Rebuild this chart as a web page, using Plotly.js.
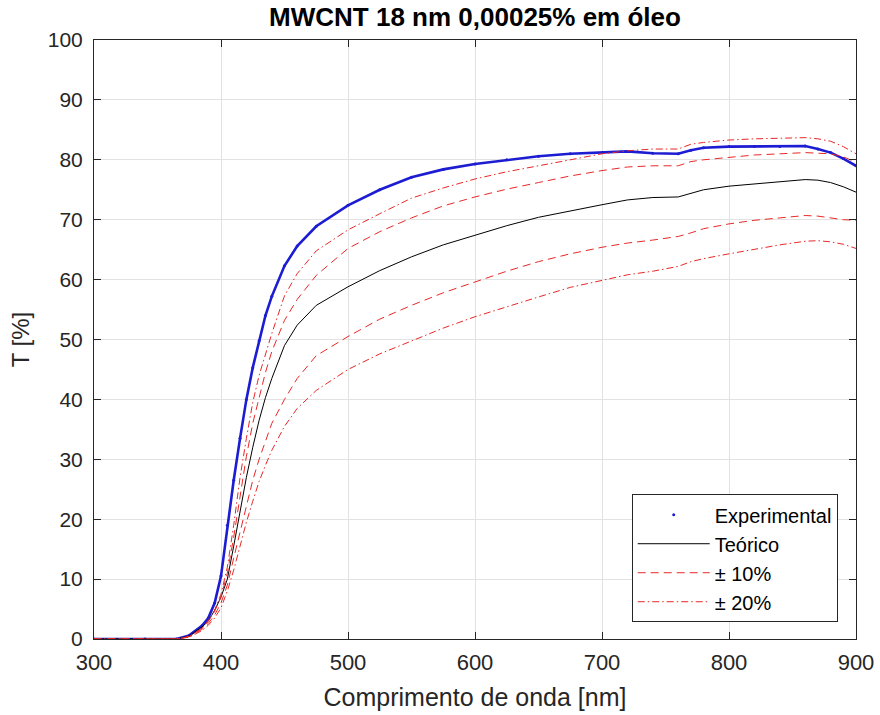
<!DOCTYPE html>
<html>
<head>
<meta charset="utf-8">
<script src="https://cdn.plot.ly/plotly-3.0.1.min.js"></script>
<style>html,body{margin:0;padding:0;background:#fff;}#chart{width:880px;height:715px;}</style>
</head>
<body>
<div id="chart"></div>
<script>
// Wavelength samples [nm]
const wavelength = [300, 340, 365, 375, 385, 390, 395, 400, 405, 410, 415, 420, 425, 430, 435, 440, 450, 460, 475, 500, 525, 550, 575, 600, 625, 650, 675, 700, 720, 740, 760, 770, 780, 800, 820, 840, 860, 870, 880, 890, 900];
// Transmittance T [%]
const experimental = [0, 0, 0, 0.6, 2.2, 3.5, 6, 10.5, 19, 26.5, 33.5, 40, 45.3, 49.8, 54, 57.2, 62.3, 65.6, 68.9, 72.4, 75, 77.1, 78.4, 79.3, 80, 80.6, 81, 81.2, 81.4, 81.1, 81, 81.6, 82, 82.2, 82.2, 82.2, 82.3, 81.8, 81.2, 80.2, 79];
const teorico = [0, 0, 0, 0.5, 2, 3, 4.8, 7, 10, 15.5, 21.5, 27, 32, 36.5, 40.3, 43.5, 49, 52.4, 55.7, 58.8, 61.5, 63.8, 65.8, 67.4, 69, 70.4, 71.5, 72.5, 73.3, 73.7, 73.8, 74.4, 75, 75.6, 76, 76.4, 76.7, 76.6, 76.2, 75.5, 74.6];
const plus10 = [0, 0, 0, 0.4, 1.8, 3, 4.6, 7, 11, 17, 24, 30.5, 36, 40.5, 44.5, 48, 53.2, 56.7, 60.7, 65.2, 68, 70.3, 72.3, 73.8, 75.1, 76.2, 77.3, 78.2, 78.8, 79, 79, 79.7, 80, 80.4, 80.8, 81, 81.2, 81.1, 81, 80.5, 79.6];
const minus10 = [0, 0, 0, 0.4, 1.6, 2.6, 4, 6, 9, 13.5, 18, 22.5, 26.5, 30, 33, 36, 40, 43.5, 47.3, 50.5, 53.4, 55.7, 57.8, 59.6, 61.4, 63, 64.3, 65.4, 66.1, 66.6, 67.2, 67.8, 68.5, 69.3, 69.9, 70.3, 70.7, 70.6, 70.3, 70, 69.9];
const plus20 = [0, 0, 0, 0.4, 1.8, 3, 4.8, 7.5, 12, 19, 27, 33.5, 39.5, 44, 47.5, 51, 57.3, 61, 64.8, 68.3, 71, 73.6, 75.3, 76.8, 78, 79, 80.1, 81, 81.5, 81.8, 81.8, 82.6, 82.9, 83.3, 83.5, 83.6, 83.7, 83.5, 83.1, 82.2, 81];
const minus20 = [0, 0, 0, 0.3, 1.4, 2.3, 3.5, 5.2, 8, 11.5, 15.5, 19.5, 23, 26.3, 29, 31.5, 35.5, 38.5, 41.5, 45, 47.6, 49.8, 51.9, 53.8, 55.5, 57.1, 58.7, 59.8, 60.8, 61.4, 62.2, 63, 63.5, 64.3, 65.1, 65.8, 66.4, 66.5, 66.3, 65.9, 65.2];

const legendNames = ['Experimental', 'Teórico', '\u00B1 10%', '\u00B1 20%'];
const xTicks = [300, 400, 500, 600, 700, 800, 900];
const yTicks = [0, 10, 20, 30, 40, 50, 60, 70, 80, 90, 100];

const BLUE = '#1c1cd2';
const RED = 'rgb(232,40,40)';
const DASH = '8px,5px';
const DASHDOT = '7px,3px,1.5px,3px';

const traces = [
  {x: wavelength, y: experimental, mode: 'lines', line: {color: BLUE, width: 2.6}, showlegend: false, legendgroup: 'exp', hoverinfo: 'skip'},
  {x: wavelength, y: experimental, mode: 'markers', marker: {color: BLUE, size: 3}, name: legendNames[0], legendgroup: 'exp'},
  {x: wavelength, y: teorico, mode: 'lines', line: {color: '#000000', width: 1}, name: legendNames[1]},
  {x: wavelength, y: plus10, mode: 'lines', line: {color: RED, width: 1, dash: DASH}, name: legendNames[2], legendgroup: 'p10'},
  {x: wavelength, y: minus10, mode: 'lines', line: {color: RED, width: 1, dash: DASH}, name: legendNames[2], legendgroup: 'p10', showlegend: false},
  {x: wavelength, y: plus20, mode: 'lines', line: {color: RED, width: 1, dash: DASHDOT}, name: legendNames[3], legendgroup: 'p20'},
  {x: wavelength, y: minus20, mode: 'lines', line: {color: RED, width: 1, dash: DASHDOT}, name: legendNames[3], legendgroup: 'p20', showlegend: false}
];

const axisCommon = {
  showline: true, linecolor: '#262626', linewidth: 1, mirror: 'ticks',
  ticks: 'inside', ticklen: 7, tickcolor: '#262626', tickwidth: 1,
  showgrid: true, gridcolor: '#e2e2e2', gridwidth: 1, zeroline: false,
  tickfont: {family: 'Liberation Sans, Arial, sans-serif', size: 21, color: '#262626'}
};

const layout = {
  width: 880, height: 715,
  margin: {l: 94, r: 24, t: 40, b: 76},
  paper_bgcolor: '#ffffff', plot_bgcolor: '#ffffff',
  font: {family: 'Liberation Sans, Arial, sans-serif', color: '#262626'},
  title: {text: '<b>MWCNT 18 nm 0,00025% em óleo</b>', font: {size: 26, color: '#000000'}, xref: 'paper', x: 0.5, xanchor: 'center', yref: 'container', y: 0.977, yanchor: 'middle'},
  xaxis: Object.assign({}, axisCommon, {range: [300, 900], tickvals: xTicks, ticktext: xTicks.map(String), ticklabelstandoff: 4,
    tickfont: {family: 'Liberation Sans, Arial, sans-serif', size: 22, color: '#262626'},
    title: {text: 'Comprimento de onda [nm]', font: {size: 25, color: '#262626'}, standoff: 14}}),
  yaxis: Object.assign({}, axisCommon, {range: [0, 100], tickvals: yTicks, ticktext: yTicks.map(String), ticklabelstandoff: 6,
    title: {text: 'T [%]', font: {size: 24, color: '#262626'}, standoff: 11}}),
  showlegend: true,
  legend: {x: 0.976, xanchor: 'right', y: 0.028, yanchor: 'bottom', bgcolor: '#ffffff', bordercolor: '#262626', borderwidth: 1,
    font: {size: 20, color: '#000000'}, tracegroupgap: 0, traceorder: 'normal', itemwidth: 72}
};

Plotly.newPlot('chart', traces, layout, {displayModeBar: false, staticPlot: true});
</script>
</body>
</html>
